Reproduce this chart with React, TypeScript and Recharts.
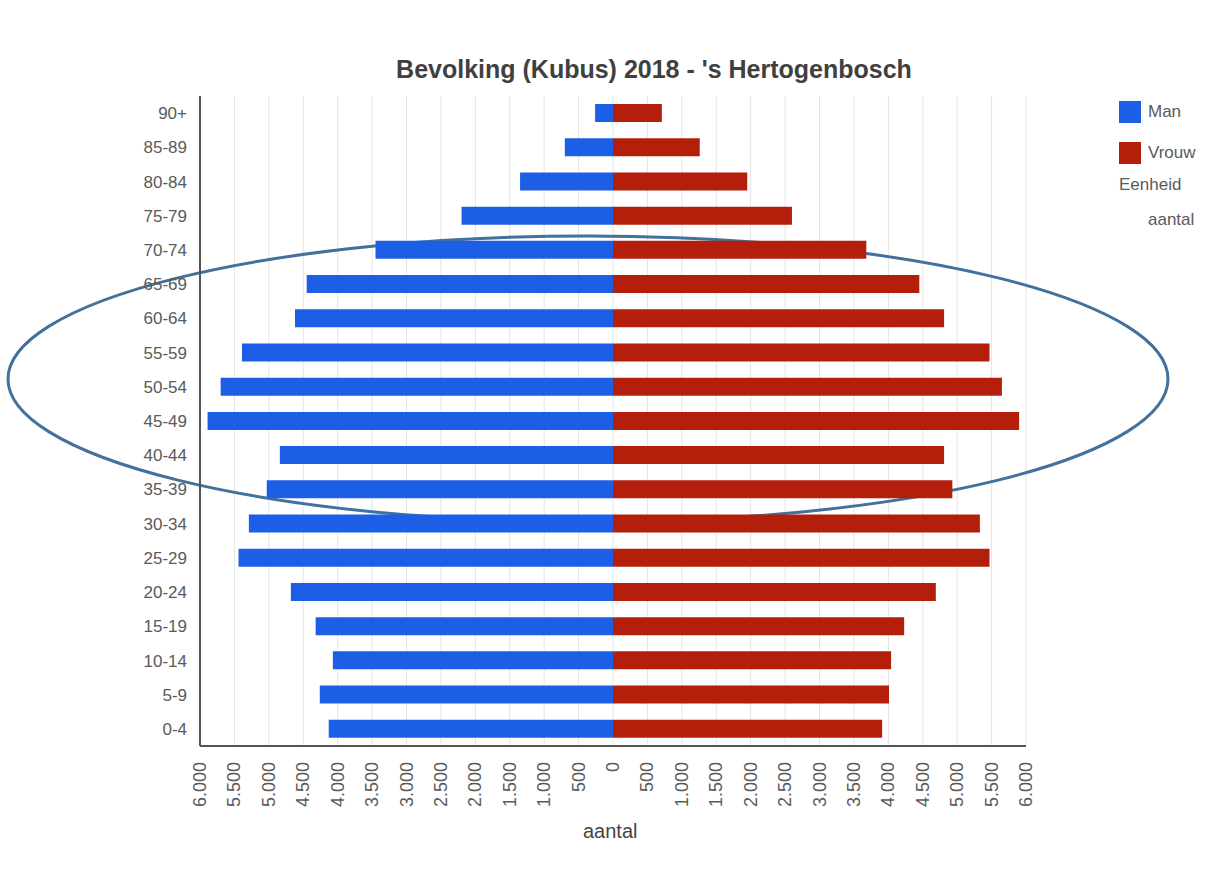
import React from "react";
import { BarChart, Bar, XAxis, YAxis, CartesianGrid, Customized } from "recharts";

const ageGroups = ["90+", "85-89", "80-84", "75-79", "70-74", "65-69", "60-64", "55-59", "50-54", "45-49", "40-44", "35-39", "30-34", "25-29", "20-24", "15-19", "10-14", "5-9", "0-4"];
const manValues = [260, 700, 1350, 2200, 3450, 4450, 4620, 5390, 5700, 5890, 4840, 5030, 5290, 5440, 4680, 4320, 4070, 4260, 4130];
const vrouwValues = [710, 1260, 1950, 2600, 3680, 4450, 4810, 5470, 5650, 5900, 4810, 4930, 5330, 5470, 4690, 4230, 4040, 4010, 3910];
const xTicks = [-6000, -5500, -5000, -4500, -4000, -3500, -3000, -2500, -2000, -1500, -1000, -500, 0, 500, 1000, 1500, 2000, 2500, 3000, 3500, 4000, 4500, 5000, 5500, 6000];

const data = ageGroups.map((g, i) => ({ age: g, man: -manValues[i], vrouw: vrouwValues[i] }));

const BLUE = "#1c5fe6";
const RED = "#b41f0b";
const FONT = "'Liberation Sans', Arial, sans-serif";

const fmt = (v: number) => {
  const a = Math.abs(v);
  return a.toString().replace(/\B(?=(\d{3})+(?!\d))/g, ".");
};

const XTick = (props: any) => {
  const { x, y, payload } = props;
  return (
    <text
      x={x}
      y={y}
      transform={`rotate(-90, ${x}, ${y})`}
      textAnchor="end"
      dominantBaseline="central"
      fontSize={18}
      fill="#5a5a5a"
      fontFamily={FONT}
    >
      {fmt(payload.value)}
    </text>
  );
};

const Ellipse = () => (
  <ellipse cx={588} cy={379} rx={580} ry={143} fill="none" stroke="#41719c" strokeWidth={3} />
);

export default function App() {
  return (
    <div style={{ position: "absolute", left: 0, top: 0, width: 1213, height: 872, background: "#fff", overflow: "hidden", fontFamily: FONT }}>
      <div style={{ position: "absolute", left: 0, top: 55, width: 1308, textAlign: "center", fontWeight: "bold", fontSize: 25, color: "#404040" }}>
        Bevolking (Kubus) 2018 - 's Hertogenbosch
      </div>
      <BarChart
        width={1213}
        height={872}
        data={data}
        layout="vertical"
        stackOffset="sign"
        barSize={18}
        margin={{ top: 96, right: 187, left: 0, bottom: 0 }}
      >
        <CartesianGrid horizontal={false} vertical={true} stroke="#e4e4e4" strokeWidth={1} />
        <XAxis
          type="number"
          domain={[-6000, 6000]}
          ticks={xTicks}
          interval={0}
          tick={<XTick />}
          tickLine={false}
          tickSize={0}
          tickMargin={16}
          axisLine={{ stroke: "#555", strokeWidth: 2 }}
          height={126}
        />
        <YAxis
          type="category"
          dataKey="age"
          width={200}
          tickLine={false}
          tickSize={0}
          tickMargin={13}
          interval={0}
          axisLine={{ stroke: "#555", strokeWidth: 2 }}
          tick={{ fontSize: 17, fill: "#5a5a5a", fontFamily: FONT }}
        />
        <Bar dataKey="man" stackId="a" fill={BLUE} isAnimationActive={false} />
        <Bar dataKey="vrouw" stackId="a" fill={RED} isAnimationActive={false} />
        <Customized component={Ellipse} />
      </BarChart>
      <div style={{ position: "absolute", left: 583, top: 820, fontSize: 20, color: "#444" }}>aantal</div>
      <div style={{ position: "absolute", left: 1119, top: 100, width: 90, fontSize: 17, color: "#5a5a5a" }}>
        <div style={{ display: "flex", alignItems: "center", height: 23, whiteSpace: "nowrap" }}>
          <span style={{ display: "inline-block", flex: "0 0 22px", height: 22, background: BLUE, marginRight: 7 }} />
          <span>Man</span>
        </div>
        <div style={{ display: "flex", alignItems: "center", height: 23, marginTop: 18, whiteSpace: "nowrap" }}>
          <span style={{ display: "inline-block", flex: "0 0 22px", height: 22, background: RED, marginRight: 7 }} />
          <span>Vrouw</span>
        </div>
        <div style={{ marginTop: 11, whiteSpace: "nowrap" }}>Eenheid</div>
        <div style={{ marginTop: 15, marginLeft: 29, whiteSpace: "nowrap" }}>aantal</div>
      </div>
    </div>
  );
}
